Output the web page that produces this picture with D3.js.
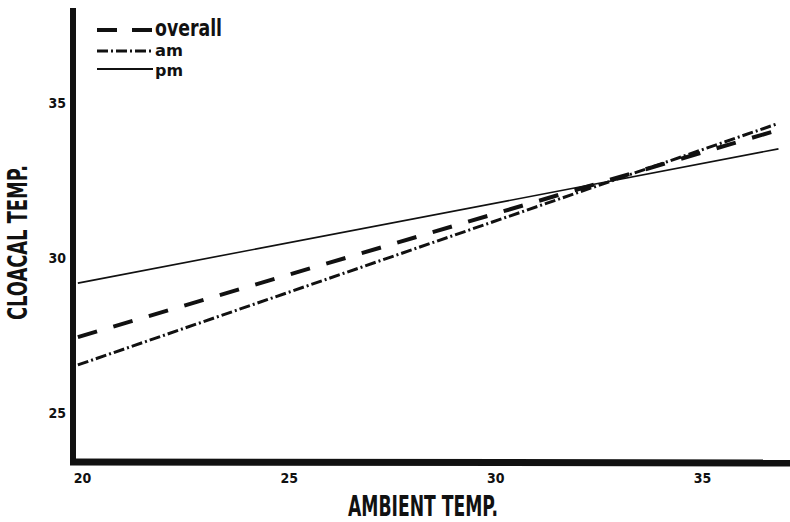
<!DOCTYPE html>
<html>
<head>
<meta charset="utf-8">
<script src="https://cdn.jsdelivr.net/npm/d3@7"></script>
<style>
  html, body { margin: 0; padding: 0; background: #fff; }
  svg { display: block; }
  text { font-family: "DejaVu Sans Condensed", "DejaVu Sans", sans-serif; font-weight: bold; fill: #111; }
</style>
</head>
<body>
<script>
// ---- data ----
const seriesNames = ["overall", "am", "pm"];
const xStart = [19.9, 19.9, 19.9];
const xEnd = [36.85, 36.8, 36.85];
const yStart = [27.45, 26.55, 29.19];   // cloacal temp at start
const yEnd = [34.13, 34.32, 33.52];     // cloacal temp at end
const xTicks = [20, 25, 30, 35];
const yTicks = [25, 30, 35];
const xTitle = "AMBIENT TEMP.";
const yTitle = "CLOACAL TEMP.";

const W = 790, H = 522;
const svg = d3.select("body").append("svg").attr("width", W).attr("height", H);

const x = d3.scaleLinear().domain([20, 35]).range([82, 702]);
const y = d3.scaleLinear().domain([25, 35]).range([413, 103]);

const styles = {
  overall: { w: 4, dash: "20,17" },
  am: { w: 3, dash: "11,3,2,3" },
  pm: { w: 1.6, dash: null }
};

// regression lines
const line = d3.line().x(d => x(d[0])).y(d => y(d[1]));
seriesNames.forEach((name, i) => {
  const pts = [[xStart[i], yStart[i]], [xEnd[i], yEnd[i]]];
  svg.append("path")
    .attr("d", line(pts))
    .attr("fill", "none")
    .attr("stroke", "#111")
    .attr("stroke-width", styles[name].w)
    .attr("stroke-dasharray", styles[name].dash);
});

// axis frame lines (thick)
const axisX = 73, axisY = 462;
svg.append("line").attr("x1", axisX).attr("x2", axisX).attr("y1", 8).attr("y2", axisY + 3)
  .attr("stroke", "#111").attr("stroke-width", 6);
svg.append("line").attr("x1", axisX - 3).attr("x2", W).attr("y1", axisY).attr("y2", axisY + 1)
  .attr("stroke", "#111").attr("stroke-width", 7);

// tick labels via d3 axes
const gx = svg.append("g").attr("transform", `translate(0,${axisY})`)
  .call(d3.axisBottom(x).tickValues(xTicks).tickSize(0).tickPadding(11).tickFormat(d3.format("d")));
gx.select(".domain").remove();
gx.selectAll("text").style("font-size", "14px").style("font-family", null).attr("fill", "#111");

const gy = svg.append("g").attr("transform", `translate(${axisX},0)`)
  .call(d3.axisLeft(y).tickValues(yTicks).tickSize(0).tickPadding(7).tickFormat(d3.format("d")));
gy.select(".domain").remove();
gy.selectAll("text").style("font-size", "14px").style("font-family", null).attr("fill", "#111");

// axis titles
svg.append("text").attr("x", 348).attr("y", 516)
  .attr("textLength", 150).attr("lengthAdjust", "spacingAndGlyphs")
  .style("font-size", "29px").text(xTitle);
svg.append("text").attr("transform", "translate(27,320) rotate(-90)")
  .attr("textLength", 155).attr("lengthAdjust", "spacingAndGlyphs")
  .style("font-size", "27px").text(yTitle);

// legend
const legY = [30, 51, 69];
const legText = [["overall", 36, 67, 23], ["am", 56, 28, 15], ["pm", 76, 28, 15]];
seriesNames.forEach((name, i) => {
  svg.append("line")
    .attr("x1", 97).attr("x2", name === "overall" ? 152 : 153)
    .attr("y1", legY[i]).attr("y2", legY[i])
    .attr("stroke", "#111")
    .attr("stroke-width", name === "pm" ? 2 : styles[name].w)
    .attr("stroke-dasharray", name === "overall" ? "20,15" : styles[name].dash);
  svg.append("text").attr("x", 155).attr("y", legText[i][1])
    .attr("textLength", legText[i][2]).attr("lengthAdjust", "spacingAndGlyphs")
    .style("font-size", legText[i][3] + "px").text(name);
});
</script>
</body>
</html>
